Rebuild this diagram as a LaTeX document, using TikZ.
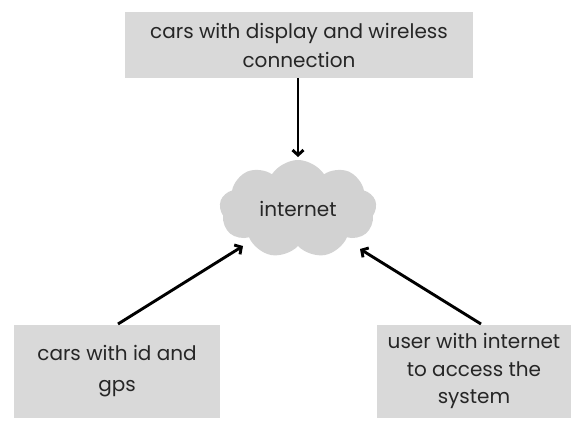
\documentclass[tikz,border=0pt]{standalone}
\usepackage{fontspec}
\setmainfont{Poppins}
\usetikzlibrary{shapes.symbols,arrows.meta}
\definecolor{boxgray}{HTML}{D9D9D9}
\definecolor{cloudgray}{HTML}{D2D2D2}
\definecolor{txt}{HTML}{262626}
\begin{document}
\begin{tikzpicture}[x=1pt,y=-1pt,
  box/.style={fill=boxgray, draw=none, inner sep=0pt, align=center, text=txt, font=\fontsize{20}{29}\selectfont},
  conn/.style={draw=black, line width=2.9pt, -{Straight Barb[length=5pt,width=11pt,line width=2.9pt]}}]
\useasboundingbox (0,0) rectangle (571,426);
\node[box, minimum width=348pt, minimum height=66pt] (top) at (299,45) {cars with display and wireless\\connection};
\node[shape=cloud, cloud puffs=9, cloud puff arc=115, aspect=1.6, fill=cloudgray, draw=none,
  minimum width=157pt, minimum height=98pt, inner sep=0pt, text=txt, font=\fontsize{20}{24}\selectfont] (net) at (298,209) {internet};
\node[box, minimum width=206pt, minimum height=93pt, font=\fontsize{20}{31}\selectfont] (bl) at (117,371) {cars with id and\\gps};
\node[box, minimum width=194pt, minimum height=93pt, font=\fontsize{20}{27.5}\selectfont] (br) at (474,371) {user with internet\\to access the\\system};
\coordinate (a1) at (298,157);
\coordinate (a2) at (243,246);
\coordinate (a3) at (360,249);
\coordinate (s1) at (298,78);
\coordinate (s2) at (118,324);
\coordinate (s3) at (481,324);
\draw[conn] (s1) -- (a1);
\draw[conn] (s2) -- (a2);
\draw[conn] (s3) -- (a3);
\end{tikzpicture}
\end{document}
